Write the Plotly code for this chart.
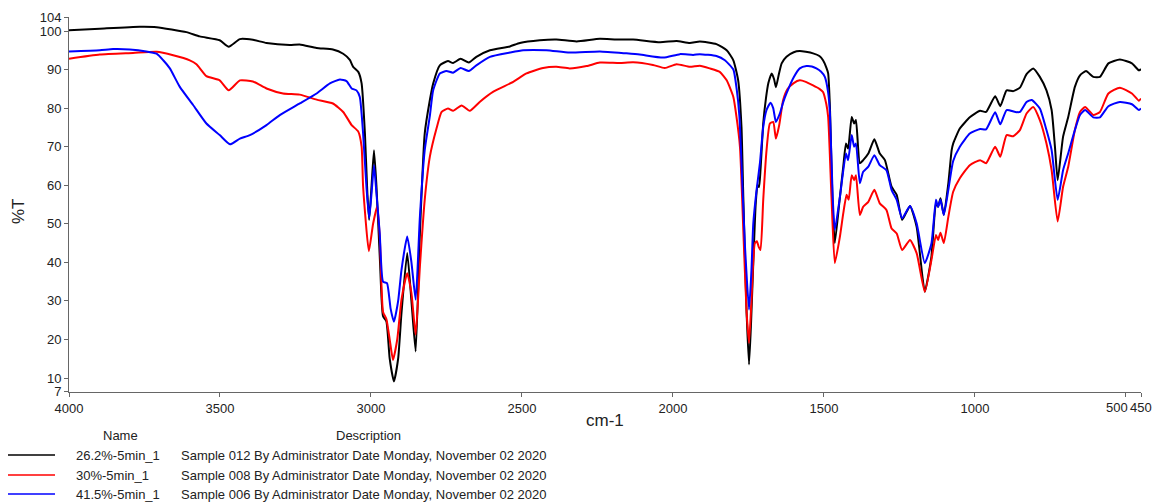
import plotly.graph_objects as go

# ---------------- data ----------------
black_wn = [4000, 3898, 3766, 3710, 3611, 3567, 3501, 3471, 3434, 3391, 3346, 3269, 3236, 3180, 3126, 3092, 3070, 3059, 3042, 3031, 3020, 3012, 3006, 2998, 2990, 2982, 2970, 2960, 2949, 2938, 2924, 2910, 2899, 2880, 2866, 2852, 2838, 2822, 2805, 2794, 2772, 2745, 2728, 2703, 2676, 2651, 2606, 2540, 2507, 2441, 2386, 2319, 2242, 2187, 2132, 2043, 1988, 1944, 1911, 1856, 1822, 1800, 1784, 1773, 1767, 1756, 1748, 1741, 1734, 1726, 1720, 1715, 1710, 1701, 1692, 1684, 1673, 1665, 1659, 1650, 1640, 1624, 1600, 1580, 1560, 1536, 1515, 1503, 1492, 1486, 1480, 1475, 1470, 1464, 1447, 1436, 1427, 1420, 1408, 1400, 1394, 1381, 1370, 1353, 1333, 1315, 1298, 1276, 1259, 1241, 1215, 1193, 1166, 1144, 1129, 1122, 1114, 1103, 1088, 1077, 1072, 1050, 1017, 983, 963, 933, 916, 895, 873, 851, 829, 807, 785, 763, 746, 735, 726, 708, 691, 669, 652, 632, 608, 586, 558, 520, 480, 457, 450]
black_t = [100.2, 100.6, 101.1, 101.0, 99.7, 98.6, 97.6, 95.9, 97.9, 97.7, 96.9, 96.4, 96.5, 95.6, 95.2, 94.1, 92.5, 90.7, 89.4, 86.4, 73.4, 58.0, 51.0, 60.0, 69.1, 60.0, 40.0, 26.0, 24.7, 15.0, 9.1, 15.0, 26.8, 42.4, 30.0, 16.9, 47.5, 73.4, 82.1, 86.4, 91.1, 92.2, 91.7, 92.8, 91.8, 93.3, 95.0, 96.0, 96.9, 97.6, 97.8, 97.3, 98.0, 97.8, 97.8, 97.1, 97.4, 96.9, 97.3, 96.6, 95.0, 92.4, 87.2, 75.1, 57.0, 26.8, 13.5, 25.0, 39.8, 55.0, 60.0, 59.5, 64.0, 76.0, 82.5, 86.5, 89.0, 87.5, 85.4, 88.5, 91.6, 93.3, 94.5, 94.8, 94.6, 94.2, 93.5, 92.4, 90.5, 89.0, 80.0, 65.0, 52.7, 45.0, 57.0, 64.8, 70.8, 69.5, 77.7, 76.0, 76.9, 65.7, 66.5, 68.2, 71.9, 68.2, 66.5, 59.6, 57.5, 51.0, 54.6, 49.2, 32.4, 41.5, 55.3, 54.4, 56.6, 52.3, 60.5, 69.1, 70.8, 74.7, 77.6, 79.3, 79.0, 83.1, 80.5, 84.6, 84.4, 85.3, 88.8, 90.3, 88.1, 84.6, 79.5, 70.0, 61.3, 72.6, 77.7, 85.5, 88.5, 89.6, 88.1, 88.1, 91.6, 92.6, 91.6, 89.8, 90.1]

red_wn = [4000, 3898, 3788, 3710, 3655, 3600, 3578, 3545, 3501, 3471, 3434, 3391, 3346, 3291, 3236, 3180, 3126, 3092, 3064, 3042, 3031, 3026, 3007, 2993, 2979, 2970, 2960, 2949, 2938, 2927, 2913, 2899, 2880, 2866, 2852, 2838, 2822, 2805, 2783, 2766, 2745, 2728, 2700, 2673, 2640, 2596, 2529, 2485, 2430, 2386, 2342, 2286, 2242, 2176, 2132, 2066, 2027, 1988, 1944, 1911, 1878, 1845, 1822, 1800, 1790, 1778, 1767, 1756, 1748, 1740, 1729, 1722, 1716, 1710, 1701, 1690, 1679, 1668, 1659, 1648, 1635, 1620, 1600, 1580, 1560, 1536, 1515, 1503, 1492, 1486, 1475, 1464, 1447, 1436, 1425, 1418, 1408, 1400, 1394, 1381, 1370, 1353, 1333, 1315, 1293, 1276, 1259, 1241, 1215, 1193, 1166, 1144, 1129, 1122, 1114, 1103, 1088, 1072, 1050, 1017, 983, 963, 933, 916, 895, 873, 851, 829, 807, 785, 763, 746, 726, 708, 691, 669, 652, 635, 608, 586, 558, 520, 480, 457, 450]
red_t = [92.8, 93.9, 94.3, 94.6, 93.7, 92.4, 91.4, 88.3, 87.2, 84.6, 87.2, 86.9, 85.1, 83.8, 83.5, 82.2, 81.2, 79.0, 75.6, 73.9, 70.0, 59.6, 42.9, 50.0, 54.6, 45.0, 27.1, 25.3, 20.0, 14.7, 20.0, 30.3, 37.2, 32.0, 21.2, 38.9, 56.2, 67.4, 74.7, 79.0, 79.9, 79.3, 80.7, 79.3, 81.6, 84.2, 86.8, 89.0, 90.4, 90.7, 90.3, 90.9, 91.8, 91.7, 91.9, 91.2, 90.4, 91.4, 90.7, 91.0, 90.3, 89.4, 87.2, 82.9, 78.0, 69.9, 48.4, 27.0, 19.1, 30.0, 44.9, 45.5, 44.0, 43.2, 56.2, 69.1, 76.0, 76.4, 72.1, 75.6, 82.1, 85.0, 86.5, 87.2, 86.8, 85.9, 85.0, 84.2, 81.0, 77.7, 57.0, 39.8, 46.7, 52.7, 57.5, 56.2, 62.6, 61.3, 62.6, 52.3, 54.4, 55.7, 58.8, 55.3, 53.6, 48.8, 47.5, 43.2, 45.8, 42.4, 32.4, 40.6, 47.1, 45.8, 47.7, 45.0, 51.8, 58.3, 61.8, 65.2, 66.5, 65.7, 70.0, 67.4, 73.0, 72.7, 74.3, 78.6, 80.3, 76.9, 70.8, 63.9, 50.6, 59.6, 64.8, 74.3, 79.0, 80.3, 78.2, 79.0, 83.8, 85.3, 83.8, 81.9, 82.5]

blue_wn = [4000, 3898, 3854, 3799, 3744, 3710, 3688, 3666, 3633, 3589, 3545, 3501, 3467, 3434, 3401, 3346, 3302, 3236, 3180, 3136, 3103, 3081, 3064, 3048, 3037, 3026, 3015, 3006, 2998, 2990, 2982, 2971, 2960, 2947, 2935, 2924, 2910, 2899, 2880, 2866, 2852, 2838, 2822, 2805, 2794, 2772, 2750, 2728, 2703, 2676, 2651, 2606, 2540, 2496, 2419, 2342, 2242, 2154, 2110, 2032, 1977, 1933, 1911, 1856, 1828, 1800, 1789, 1780, 1773, 1762, 1748, 1740, 1734, 1723, 1712, 1701, 1690, 1677, 1668, 1659, 1646, 1635, 1624, 1600, 1580, 1558, 1540, 1525, 1510, 1497, 1486, 1480, 1471, 1464, 1447, 1427, 1420, 1408, 1400, 1394, 1381, 1370, 1353, 1333, 1315, 1293, 1276, 1259, 1241, 1215, 1193, 1166, 1144, 1129, 1122, 1114, 1103, 1088, 1072, 1050, 1017, 983, 963, 933, 916, 895, 866, 851, 829, 812, 785, 763, 746, 726, 708, 691, 669, 652, 635, 608, 586, 558, 520, 480, 457, 450]
blue_t = [94.7, 95.0, 95.3, 95.2, 94.7, 94.1, 92.4, 90.3, 85.5, 80.8, 76.0, 73.0, 70.6, 72.1, 73.0, 75.6, 78.2, 81.2, 83.8, 86.4, 87.4, 87.0, 85.1, 84.6, 82.9, 73.4, 59.6, 51.4, 58.0, 65.2, 58.0, 47.5, 35.0, 34.6, 28.0, 24.6, 30.0, 38.0, 46.7, 40.0, 30.3, 51.8, 69.1, 78.0, 84.6, 89.0, 89.6, 89.2, 90.4, 89.6, 91.1, 93.3, 94.4, 95.0, 95.0, 94.4, 94.7, 94.2, 93.9, 93.1, 94.0, 93.8, 94.0, 93.5, 92.4, 90.0, 85.0, 78.0, 65.7, 45.0, 27.7, 38.0, 50.0, 58.8, 65.7, 75.1, 79.5, 81.4, 80.0, 76.4, 78.6, 81.5, 83.8, 88.0, 90.3, 90.9, 90.8, 90.3, 89.5, 88.1, 84.0, 78.6, 57.0, 48.4, 57.0, 68.2, 66.5, 73.0, 70.0, 70.8, 60.5, 63.5, 64.8, 67.8, 65.2, 63.9, 58.8, 56.2, 51.4, 54.6, 50.1, 39.8, 44.9, 56.2, 54.4, 56.2, 52.3, 58.8, 66.3, 70.0, 73.4, 74.6, 74.5, 78.9, 75.8, 79.5, 79.0, 79.0, 81.6, 82.1, 79.9, 74.3, 69.1, 56.2, 63.9, 68.3, 74.3, 78.2, 79.5, 77.6, 77.6, 80.5, 81.6, 81.0, 79.5, 79.9]

series_names = ["26.2%-5min_1", "30%-5min_1", "41.5%-5min_1"]
series_desc = ["Sample 012 By Administrator Date Monday, November 02 2020",
               "Sample 008 By Administrator Date Monday, November 02 2020",
               "Sample 006 By Administrator Date Monday, November 02 2020"]
series_colors = ["#000000", "#ff0000", "#0000ff"]

x_ticks = [4000, 3500, 3000, 2500, 2000, 1500, 1000, 500, 450]
x_tick_text = ["4000", "3500", "3000", "2500", "2000", "1500", "1000", "500", "450"]
y_tick_vals = [6.4, 10, 20, 30, 40, 50, 60, 70, 80, 90, 100, 103.6]
y_tick_text = ["7", "10", "20", "30", "40", "50", "60", "70", "80", "90", "100", "104"]

# ---------------- figure ----------------
W, H = 1155, 502
ML, MR, MT, MB = 69, 14, 17, 110
PW, PH = W - ML - MR, H - MT - MB
FONT = "Liberation Sans, Arial, sans-serif"
TXT = "#222222"


def px(x):
    return (x - ML) / PW


def py(y):
    return (H - MB - y) / PH


fig = go.Figure()
for wn, t, name, col in zip([black_wn, red_wn, blue_wn], [black_t, red_t, blue_t],
                            series_names, series_colors):
    fig.add_trace(go.Scatter(x=wn, y=t, mode="lines", name=name,
                             line=dict(color=col, width=2, shape="spline", smoothing=0.5),
                             showlegend=False))

axis_common = dict(showline=True, linecolor="#666666", linewidth=1, showgrid=False,
                   zeroline=False, ticks="outside", ticklen=4, tickcolor="#666666",
                   tickfont=dict(family=FONT, size=13, color=TXT), mirror=False,
                   tickangle=0, automargin=False)

# the last two x labels are written as annotations so that they can sit side by side
fig.update_xaxes(range=[4000, 450], tickvals=x_ticks,
                 ticktext=x_tick_text[:-2] + ["", ""], **axis_common)
fig.update_yaxes(range=[6.37, 103.63], tickvals=y_tick_vals, ticktext=y_tick_text,
                 **axis_common)

ann = []
for v, lab, shift in zip(x_ticks[-2:], x_tick_text[-2:], [-9, 0]):
    ann.append(dict(text=lab, x=v, y=0, xref="x", yref="paper", yshift=-6, xshift=shift,
                    showarrow=False, xanchor="center", yanchor="top",
                    font=dict(family=FONT, size=13, color=TXT)))
ann.append(dict(text="cm-1", x=px(605), y=py(421), xref="paper", yref="paper",
                showarrow=False, xanchor="center", yanchor="middle",
                font=dict(family=FONT, size=17, color=TXT)))
ann.append(dict(text="%T", x=px(18), y=py(211), xref="paper", yref="paper",
                showarrow=False, xanchor="center", yanchor="middle", textangle=-90,
                font=dict(family=FONT, size=17, color=TXT)))
ann.append(dict(text="Name", x=px(120), y=py(435), xref="paper", yref="paper",
                showarrow=False, xanchor="center", yanchor="middle",
                font=dict(family=FONT, size=13, color=TXT)))
ann.append(dict(text="Description", x=px(368), y=py(435), xref="paper", yref="paper",
                showarrow=False, xanchor="center", yanchor="middle",
                font=dict(family=FONT, size=13, color=TXT)))

shapes = []
row_y = [455, 475, 494]
for ry, name, desc, col in zip(row_y, series_names, series_desc, series_colors):
    shapes.append(dict(type="line", xref="paper", yref="paper",
                       x0=px(8), x1=px(55), y0=py(ry), y1=py(ry),
                       line=dict(color=col, width=1.3)))
    ann.append(dict(text=name, x=px(74), y=py(ry), xref="paper", yref="paper",
                    showarrow=False, xanchor="left", yanchor="middle",
                    font=dict(family=FONT, size=13, color=TXT)))
    ann.append(dict(text=desc, x=px(179), y=py(ry), xref="paper", yref="paper",
                    showarrow=False, xanchor="left", yanchor="middle",
                    font=dict(family=FONT, size=13, color=TXT)))

fig.update_layout(width=W, height=H, margin=dict(l=ML, r=MR, t=MT, b=MB, pad=0),
                  paper_bgcolor="white", plot_bgcolor="white",
                  annotations=ann, shapes=shapes, showlegend=False)

fig.write_html("out.html")
